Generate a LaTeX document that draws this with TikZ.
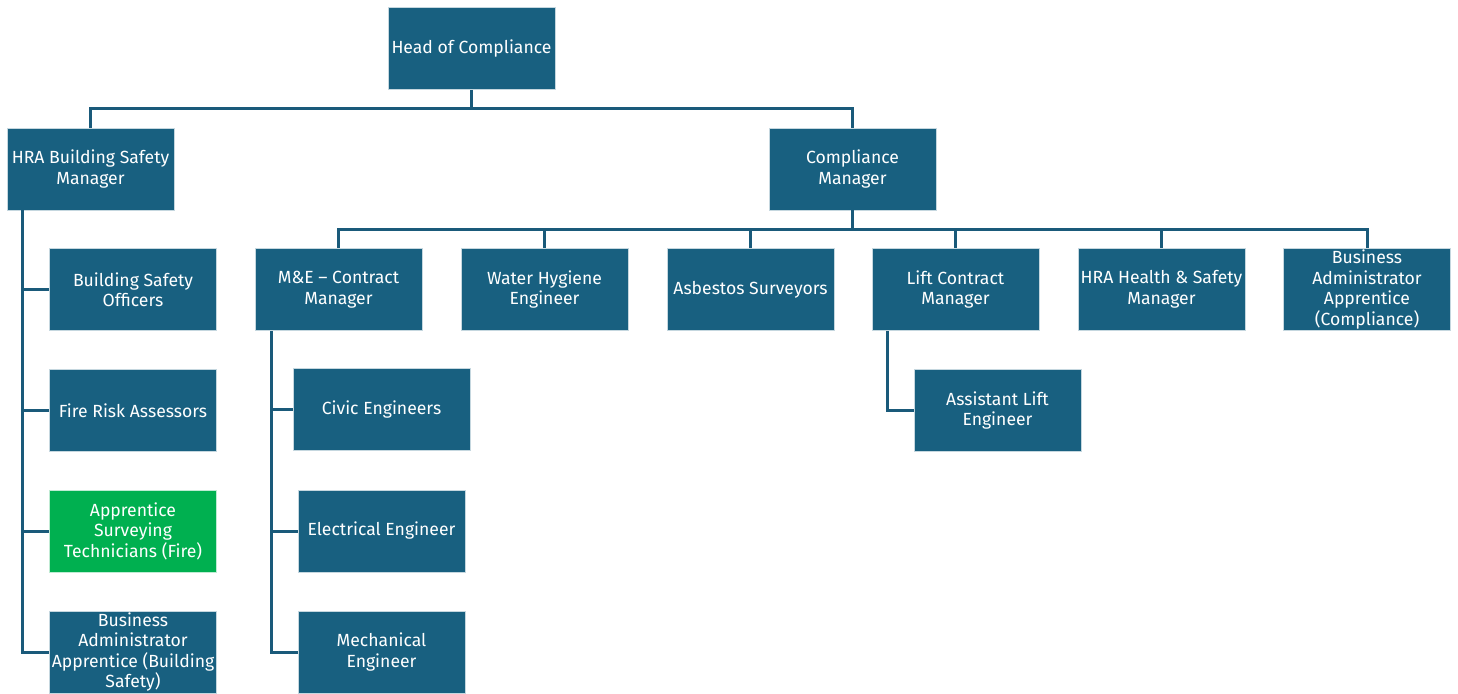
\documentclass[tikz,border=0pt]{standalone}
\usepackage{fontspec}
\setmainfont{Fira Sans}
\usetikzlibrary{calc}
\definecolor{boxblue}{RGB}{24,96,128}
\definecolor{boxgreen}{RGB}{0,176,80}
\definecolor{linkblue}{RGB}{26,90,122}
\tikzset{
  orgbox/.style={rectangle, fill=boxblue, draw=white!75!boxblue, line width=0.8pt,
    minimum width=167pt, minimum height=82pt, inner sep=1pt, text=white,
    align=center, font=\fontsize{17.6}{20.5}\selectfont},
  greenbox/.style={orgbox, fill=boxgreen, draw=white!75!boxgreen},
  link/.style={draw=linkblue, line width=3pt}
}
\begin{document}
\begin{tikzpicture}[x=1pt,y=-1pt]
\useasboundingbox (0,0) rectangle (1458,693);
% top
\node[orgbox] (head) at (471.5,48.5) {Head of Compliance};
\node[orgbox] (hra) at (90.5,169) {HRA Building Safety\\Manager};
\node[orgbox] (cm) at (852.5,169) {Compliance\\Manager};
% left column
\node[orgbox] (bso) at (133,289.5) {Building Safety\\Officers};
\node[orgbox] (fra) at (133,410.5) {Fire Risk Assessors};
\node[greenbox] (ast) at (133,531) {Apprentice\\Surveying\\Technicians (Fire)};
\node[orgbox] (babs) at (133,652) {Business\\Administrator\\Apprentice (Building\\Safety)};
% compliance row
\node[orgbox] (me) at (338.5,289.5) {M\&E – Contract\\Manager};
\node[orgbox] (wh) at (544.5,289.5) {Water Hygiene\\Engineer};
\node[orgbox] (asb) at (750.5,289.5) {Asbestos Surveyors};
\node[orgbox] (lcm) at (955.5,289.5) {Lift Contract\\Manager};
\node[orgbox] (hhs) at (1161.5,289.5) {HRA Health \& Safety\\Manager};
\node[orgbox] (bac) at (1367,289.5) {Business\\Administrator\\Apprentice\\(Compliance)};
% M&E children
\node[orgbox, minimum width=177pt] (civ) at (381.5,409.5) {Civic Engineers};
\node[orgbox] (ele) at (381.5,531) {Electrical Engineer};
\node[orgbox] (mec) at (381.5,652) {Mechanical\\Engineer};
% lift child
\node[orgbox] (ale) at (997.5,410.5) {Assistant Lift\\Engineer};
% coordinates
\coordinate (busTop) at (0,108);
\coordinate (busCM) at (0,229);
\coordinate (trunkL) at (22,0);
\coordinate (trunkME) at (271,0);
\coordinate (trunkLift) at (887,0);
% connectors
\draw[link] (head.south) -- (head.south |- busTop) -| (hra.north);
\draw[link] (head.south |- busTop) -| (cm.north);
\foreach \n in {me,wh,asb,lcm,hhs,bac}{
  \draw[link] (cm.south) -- (cm.south |- busCM) -| (\n.north);
}
\draw[link] (hra.south -| trunkL) -- (babs.west -| trunkL) -- (babs.west);
\foreach \n in {bso,fra,ast}{
  \draw[link] (\n.west -| trunkL) -- (\n.west);
}
\draw[link] (me.south -| trunkME) -- (mec.west -| trunkME) -- (mec.west);
\foreach \n in {civ,ele}{
  \draw[link] (\n.west -| trunkME) -- (\n.west);
}
\draw[link] (lcm.south -| trunkLift) -- (ale.west -| trunkLift) -- (ale.west);
\end{tikzpicture}
\end{document}
